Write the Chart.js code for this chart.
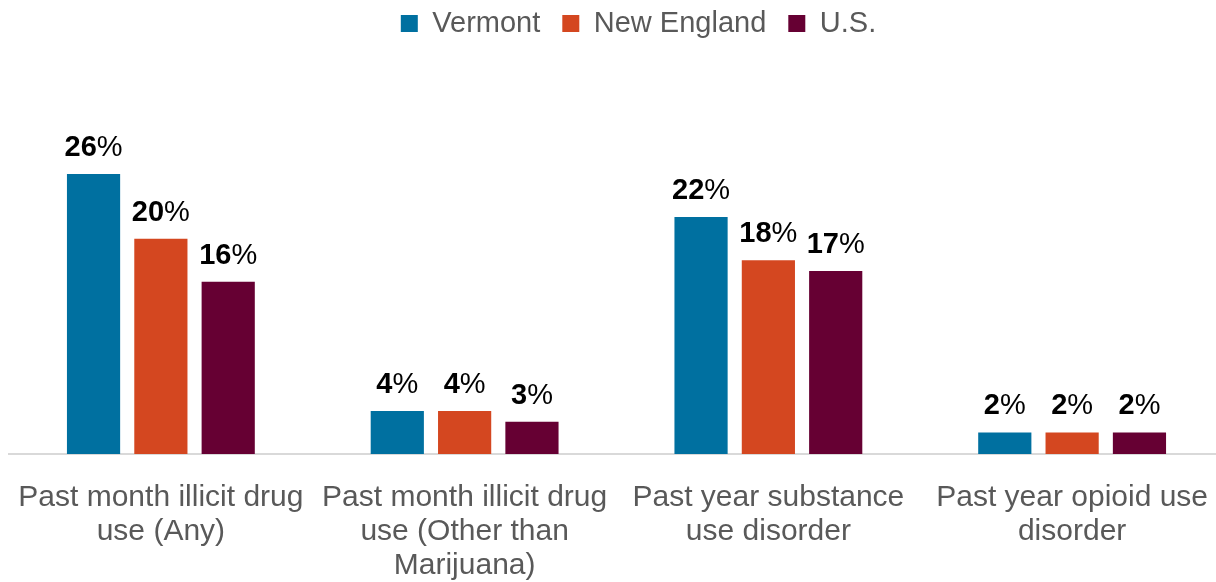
<!DOCTYPE html>
<html lang="en">
<head>
<meta charset="UTF-8">
<title>Substance Use: Vermont, New England and U.S.</title>
<script src="https://cdn.jsdelivr.net/npm/chart.js"></script>
<style>
  html, body { margin: 0; padding: 0; background: #fff; overflow: hidden; }
  #wrap { width: 1224px; height: 582px; }
</style>
</head>
<body>
<div id="wrap"><canvas id="useChart" width="1224" height="582"></canvas></div>
<script>
const categories = [
  ['Past month illicit drug', 'use (Any)'],
  ['Past month illicit drug', 'use (Other than', 'Marijuana)'],
  ['Past year substance', 'use disorder'],
  ['Past year opioid use', 'disorder']
];
const vermont = [26, 4, 22, 2];
const newEngland = [20, 4, 18, 2];
const us = [16, 3, 17, 2];

const FONT = '"Liberation Sans", Arial, sans-serif';

// percent labels above each bar: digits bold, % sign regular
const valueLabels = {
  id: 'valueLabels',
  afterDatasetsDraw(chart) {
    const ctx = chart.ctx;
    ctx.save();
    ctx.fillStyle = '#000';
    ctx.textBaseline = 'alphabetic';
    ctx.textAlign = 'left';
    chart.data.datasets.forEach((ds, i) => {
      chart.getDatasetMeta(i).data.forEach((bar, j) => {
        const num = String(ds.data[j]);
        ctx.font = 'bold 29px ' + FONT;
        const wNum = ctx.measureText(num).width;
        ctx.font = '29px ' + FONT;
        const wPct = ctx.measureText('%').width;
        const x0 = bar.x - (wNum + wPct) / 2;
        const y = bar.y - 18;
        ctx.font = 'bold 29px ' + FONT;
        ctx.fillText(num, x0, y);
        ctx.font = '29px ' + FONT;
        ctx.fillText('%', x0 + wNum, y);
      });
    });
    ctx.restore();
  }
};

// nudge the legend: it sits right of centre and close to the top edge
const legendShift = {
  id: 'legendShift',
  afterLayout(chart) {
    const lg = chart.legend;
    lg.left += 22; lg.right += 22;
    lg.top -= 13; lg.bottom -= 13;
  }
};

new Chart(document.getElementById('useChart'), {
  type: 'bar',
  data: {
    labels: categories,
    datasets: [
      { label: 'Vermont', data: vermont, backgroundColor: '#0070A0' },
      { label: 'New England', data: newEngland, backgroundColor: '#D44720' },
      { label: 'U.S.', data: us, backgroundColor: '#660033' }
    ]
  },
  options: {
    responsive: false,
    animation: false,
    layout: { padding: { left: 9, right: 0, top: 0, bottom: -4 } },
    datasets: { bar: { categoryPercentage: 0.665, barPercentage: 0.79 } },
    plugins: {
      legend: {
        position: 'top',
        labels: {
          boxWidth: 17,
          boxHeight: 17,
          padding: 22,
          color: '#595959',
          font: { family: FONT, size: 29 }
        }
      },
      tooltip: { enabled: false }
    },
    scales: {
      x: {
        // invisible tick marks push the category text down without widening the axis
        grid: {
          display: true,
          drawOnChartArea: false,
          drawTicks: true,
          tickLength: 24,
          color: 'rgba(0,0,0,0)'
        },
        border: { display: true, color: '#d9d9d9', width: 2 },
        ticks: {
          color: '#595959',
          padding: 3,
          maxRotation: 0,
          autoSkip: false,
          font: { family: FONT, size: 30, lineHeight: '34px' }
        }
      },
      y: {
        display: false,
        min: 0,
        max: 36.5
      }
    }
  },
  plugins: [valueLabels, legendShift]
});
</script>
</body>
</html>
